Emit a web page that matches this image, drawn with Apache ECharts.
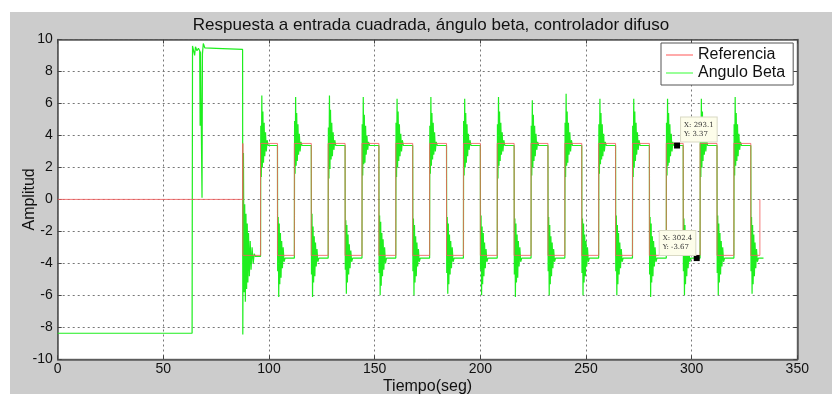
<!DOCTYPE html>
<html>
<head>
<meta charset="utf-8">
<script src="https://cdn.jsdelivr.net/npm/echarts@6/dist/echarts.min.js"></script>
<style>
html,body{margin:0;padding:0;background:#fff;}
#chart{width:832px;height:394px;}
</style>
</head>
<body>
<div id="chart"></div>
<script>
// ---- data ----
const titleText = 'Respuesta a entrada cuadrada, ángulo beta, controlador difuso';
const xName = 'Tiempo(seg)';
const yName = 'Amplitud';
const seriesNames = ['Referencia', 'Angulo Beta'];

// reference square wave (step corners)
const refTimes  = [0, 87.6, 87.6, 96, 104, 112, 120, 128, 136, 144, 152, 160, 168, 176, 184, 192, 200, 208, 216, 224, 232, 240, 248, 256, 264, 272, 280, 288, 296, 304, 312, 320, 328, 332.3];
const refValues = [0, 3.5, -3.5, 3.5, -3.5, 3.5, -3.5, 3.5, -3.5, 3.5, -3.5, 3.5, -3.5, 3.5, -3.5, 3.5, -3.5, 3.5, -3.5, 3.5, -3.5, 3.5, -3.5, 3.5, -3.5, 3.5, -3.5, 3.5, -3.5, 3.5, -3.5, 3.5, -3.5, 0];

// measured angle: initial part (time, value)
const betaStart = [
  [0, -8.37], [63.6, -8.37], [63.8, 9.6], [64.4, 9.55], [64.8, 9.0], [65.2, 9.55], [65.9, 9.3],
  [66.6, 9.45], [67.2, 9.3], [67.4, 4.6], [67.6, 9.25], [68.1, 9.3], [68.3, 0.1], [68.5, 9.1],
  [68.9, 9.75], [69.6, 9.48], [75, 9.45], [87.5, 9.38],
  [87.6, -8.45], [87.9, 2.9], [88.2, -5.8], [88.5, -0.3], [88.8, -6.4], [89.1, -0.9], [89.4, -5.6],
  [89.7, -1.5], [90.0, -5.2], [90.3, -2.1], [90.7, -4.8], [91.1, -2.6], [91.5, -4.4], [92.0, -3.0],
  [92.5, -4.0], [93.0, -3.4], [93.5, -3.56]
];
// time offsets of the ringing samples after each switching instant
const ringOffsets = [0, 0.1, 0.35, 0.6, 0.85, 1.1, 1.4, 1.7, 2.0, 2.35, 2.7, 3.1, 3.6];
// ringing values read after every switching instant
const betaRings = [
  [96,  [-3.56, 4.6, 1.4, 6.5, 2.0, 5.5, 2.3, 4.8, 2.7, 4.2, 3.0, 3.7, 3.37]],
  [104, [3.37, -4.5, -1.1, -6.1, -1.5, -5.3, -2.1, -4.9, -2.6, -4.3, -3.0, -3.9, -3.67]],
  [112, [-3.67, 4.9, 1.6, 6.4, 2.1, 5.4, 2.4, 4.7, 2.8, 4.1, 3.0, 3.6, 3.37]],
  [120, [3.37, -4.7, -0.9, -6.1, -1.7, -5.2, -2.3, -4.8, -2.7, -4.2, -3.1, -3.9, -3.67]],
  [128, [-3.67, 4.5, 1.3, 6.5, 1.9, 5.6, 2.5, 4.8, 2.7, 4.2, 3.1, 3.7, 3.37]],
  [136, [3.37, -4.4, -1.3, -5.9, -1.6, -5.2, -2.2, -4.7, -2.8, -4.3, -3.2, -3.9, -3.67]],
  [144, [-3.67, 4.7, 1.5, 6.4, 2.2, 5.3, 2.3, 4.6, 2.8, 4.0, 3.1, 3.6, 3.37]],
  [152, [3.37, -4.6, -1.0, -6.0, -1.4, -5.4, -2.1, -4.8, -2.5, -4.4, -3.0, -4.0, -3.67]],
  [160, [-3.67, 4.8, 1.4, 6.3, 2.0, 5.5, 2.4, 4.7, 2.7, 4.1, 3.0, 3.7, 3.37]],
  [168, [3.37, -4.5, -1.2, -6.0, -1.6, -5.2, -2.3, -4.8, -2.7, -4.2, -3.1, -3.9, -3.67]],
  [176, [-3.67, 4.6, 1.6, 6.4, 2.1, 5.4, 2.5, 4.8, 2.8, 4.2, 3.0, 3.6, 3.37]],
  [184, [3.37, -4.6, -1.1, -5.9, -1.5, -5.3, -2.2, -4.7, -2.6, -4.3, -3.0, -3.9, -3.67]],
  [192, [-3.67, 4.9, 1.5, 6.3, 2.0, 5.4, 2.3, 4.7, 2.7, 4.1, 3.1, 3.7, 3.37]],
  [200, [3.37, -4.4, -1.0, -6.0, -1.7, -5.3, -2.1, -4.8, -2.7, -4.3, -3.1, -3.9, -3.67]],
  [208, [-3.67, 4.7, 1.3, 6.4, 2.1, 5.5, 2.4, 4.8, 2.8, 4.2, 3.0, 3.7, 3.37]],
  [216, [3.37, -4.7, -1.2, -6.1, -1.5, -5.2, -2.2, -4.9, -2.6, -4.2, -3.0, -3.9, -3.67]],
  [224, [-3.67, 4.6, 1.5, 6.2, 2.0, 5.3, 2.4, 4.6, 2.7, 4.1, 3.1, 3.6, 3.37]],
  [232, [3.37, -4.5, -1.1, -6.0, -1.6, -5.3, -2.3, -4.8, -2.7, -4.3, -3.1, -3.9, -3.67]],
  [240, [-3.67, 4.8, 1.4, 6.6, 2.1, 5.5, 2.3, 4.8, 2.8, 4.2, 3.0, 3.7, 3.37]],
  [248, [3.37, -4.6, -1.2, -6.0, -1.5, -5.2, -2.2, -4.8, -2.6, -4.2, -3.0, -3.9, -3.67]],
  [256, [-3.67, 4.7, 1.6, 6.3, 2.2, 5.4, 2.5, 4.7, 2.7, 4.1, 3.0, 3.6, 3.37]],
  [264, [3.37, -4.5, -1.0, -6.0, -1.6, -5.3, -2.1, -4.7, -2.7, -4.3, -3.1, -3.9, -3.67]],
  [272, [-3.67, 4.6, 1.4, 6.3, 2.0, 5.5, 2.4, 4.8, 2.8, 4.2, 3.1, 3.7, 3.37]],
  [280, [3.37, -4.7, -1.1, -6.1, -1.5, -5.2, -2.3, -4.8, -2.6, -4.2, -3.0, -3.9, -3.67]],
  [288, [-3.67, 4.8, 1.5, 6.3, 2.1, 5.4, 2.3, 4.7, 2.7, 4.1, 3.0, 3.6, 3.37]],
  [296, [3.37, -4.5, -1.2, -6.0, -1.6, -5.3, -2.2, -4.8, -2.7, -4.3, -3.1, -3.9, -3.67]],
  [304, [-3.67, 4.6, 1.4, 6.3, 2.0, 5.5, 2.4, 4.8, 2.8, 4.2, 3.0, 3.7, 3.37]],
  [312, [3.37, -4.6, -1.0, -6.0, -1.5, -5.2, -2.1, -4.7, -2.6, -4.2, -3.0, -3.9, -3.67]],
  [320, [-3.67, 4.7, 1.5, 6.4, 2.1, 5.4, 2.4, 4.7, 2.7, 4.1, 3.1, 3.6, 3.37]],
  [328, [3.37, -4.5, -1.1, -5.9, -1.6, -5.3, -2.2, -4.8, -2.7, -4.3, -3.1, -3.9, -3.67]]
];
const betaEnd = [334, -3.67];

// data tips
const tipPoints = [[293.1, 3.37], [302.4, -3.67]];
const tipLabels = ['X: 293.1\nY: 3.37', 'X: 302.4\nY: -3.67'];

// axes
const xMin = 0, xMax = 350, xStep = 50;
const yMin = -10, yMax = 10, yStep = 2;

// ---- build ----
const refData = refTimes.map((t, i) => [t, refValues[i]]);
const betaData = betaStart.slice();
betaRings.forEach(([t0, vals]) => vals.forEach((v, i) => betaData.push([t0 + ringOffsets[i], v])));
betaData.push(betaEnd);

const FONT = 'Liberation Sans, Arial, Helvetica, sans-serif';
const AX = '#555';
const chart = echarts.init(document.getElementById('chart'), null, {renderer: 'canvas'});

const baseAxis = {
  axisLine: {show: true, onZero: false, lineStyle: {color: AX, width: 1.5}},
  axisTick: {show: true, inside: true, length: 4, lineStyle: {color: '#444'}},
  splitLine: {show: false}
};

chart.setOption({
  animation: false,
  backgroundColor: '#ffffff',
  graphic: [{
    type: 'rect', z: -100, silent: true,
    shape: {x: 10, y: 12, width: 822, height: 382},
    style: {fill: '#cccccc'}
  }],
  title: {
    text: titleText, left: 426, textAlign: 'center', top: 12,
    textStyle: {fontFamily: FONT, fontSize: 17, fontWeight: 'normal', color: '#111'}
  },
  grid: {
    left: 57.7, width: 739.6, top: 39.5, height: 319.8,
    outerBoundsMode: 'none', containLabel: false,
    show: true, backgroundColor: '#ffffff', borderColor: AX, borderWidth: 1
  },
  legend: {
    orient: 'vertical', left: 661, top: 43,
    backgroundColor: '#ffffff', borderColor: '#555', borderWidth: 1,
    padding: [4, 8, 4, 5], itemGap: 2, itemWidth: 27, itemHeight: 2,
    icon: 'rect',
    textStyle: {fontFamily: FONT, fontSize: 16, color: '#111'},
    data: [
      {name: seriesNames[0], itemStyle: {color: '#ffaaaa'}},
      {name: seriesNames[1], itemStyle: {color: '#99ff99'}}
    ]
  },
  xAxis: [
    Object.assign({}, baseAxis, {
      type: 'value', min: xMin, max: xMax, interval: xStep, position: 'bottom',
      name: xName, nameLocation: 'middle', nameGap: 19, nameMoveOverlap: false,
      nameTextStyle: {fontFamily: FONT, fontSize: 16, color: '#111'},
      axisLabel: {fontFamily: FONT, fontSize: 14, color: '#111', margin: 3},
      splitLine: {show: true, lineStyle: {color: '#777', type: [2, 3], width: 1}}
    }),
    Object.assign({}, baseAxis, {
      type: 'value', min: xMin, max: xMax, interval: xStep, position: 'top',
      axisLabel: {show: false}
    })
  ],
  yAxis: [
    Object.assign({}, baseAxis, {
      type: 'value', min: yMin, max: yMax, interval: yStep, position: 'left',
      name: yName, nameLocation: 'middle', nameGap: 20, nameMoveOverlap: false,
      nameTextStyle: {fontFamily: FONT, fontSize: 16, color: '#111'},
      axisLabel: {fontFamily: FONT, fontSize: 14, color: '#111', margin: 5},
      splitLine: {show: true, lineStyle: {color: '#777', type: [2, 3], width: 1}}
    }),
    Object.assign({}, baseAxis, {
      type: 'value', min: yMin, max: yMax, interval: yStep, position: 'right',
      axisLabel: {show: false}
    })
  ],
  series: [
    {
      name: seriesNames[1], type: 'line', data: betaData, showSymbol: false, symbol: 'none',
      xAxisIndex: 0, yAxisIndex: 0, z: 2,
      lineStyle: {color: '#1eee1e', width: 1.2}, itemStyle: {color: '#1eee1e'},
      markPoint: {
        symbol: 'rect', symbolSize: 6, itemStyle: {color: '#000'},
        data: [
          {coord: tipPoints[0], label: {show: true, formatter: tipLabels[0], position: [7, -25]}},
          {coord: tipPoints[1], label: {show: true, formatter: tipLabels[1], position: [-34, -24]}}
        ],
        label: {
          align: 'left', verticalAlign: 'top',
          fontFamily: 'DejaVu Serif, serif', fontSize: 7, lineHeight: 9, color: '#333',
          backgroundColor: '#fdfdea', borderColor: '#d9d9c4', borderWidth: 1, padding: [3, 3]
        }
      }
    },
    {
      name: seriesNames[0], type: 'line', data: refData, step: 'end', showSymbol: false, symbol: 'none',
      xAxisIndex: 0, yAxisIndex: 0, z: 3,
      lineStyle: {color: '#f26060', width: 1, opacity: 0.85}, itemStyle: {color: '#f26060'}
    }
  ]
});
</script>
</body>
</html>
